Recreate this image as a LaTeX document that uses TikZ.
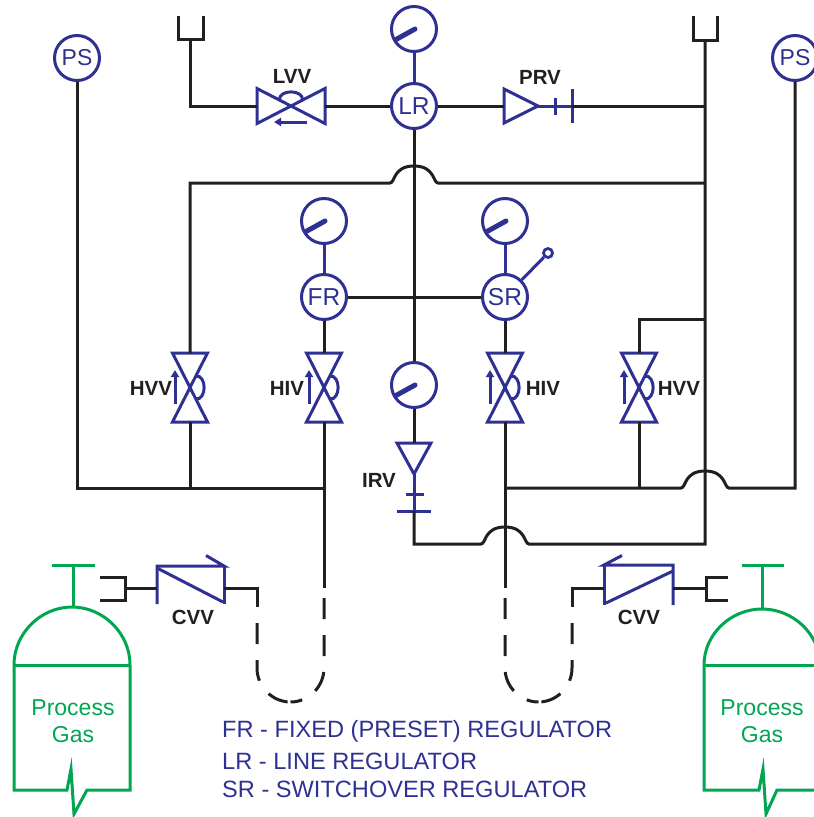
\documentclass[tikz,border=0pt]{standalone}
\usepackage{fontspec}
\setmainfont{Liberation Sans}
\usetikzlibrary{arrows.meta}
\definecolor{pid}{HTML}{2E3192}
\definecolor{ink}{HTML}{231F20}
\definecolor{gas}{HTML}{00A651}

% hand valve with bonnet arc and stem arrow, vertical, centred at (#1,#2)
\newcommand\handvalve[2]{%
  \draw[sym] (#1-17.5,#2-34.5) -- (#1+17.5,#2-34.5) -- (#1-17.5,#2+34.5) -- (#1+17.5,#2+34.5) -- cycle;
  \draw[sym] (#1+5.5,#2-11.5) .. controls (#1+17,#2-13) and (#1+17,#2+13) .. (#1+5.5,#2+11.5);
  \draw[sym,-{Triangle[length=7pt,width=8pt]}] (#1-15,#2+16) -- (#1-15,#2-17.5);
}
% pointer of a pressure gauge
\newcommand\gaugeneedle[1]{\draw[needle] (#1.center) ++(1,0) -- ++(-19,10.5);}

\begin{document}
\begin{tikzpicture}[x=1pt,y=-1pt,line join=miter,
  pipe/.style={draw=ink,line width=3pt},
  sym/.style={draw=pid,line width=3pt},
  inst/.style={circle,draw=pid,line width=3pt,minimum size=45pt,inner sep=0pt,
    text=pid,font=\fontsize{24.5}{28}\selectfont},
  gauge/.style={circle,draw=pid,line width=3pt,minimum size=45pt,inner sep=0pt},
  needle/.style={draw=pid,line width=5pt,line cap=round},
  tag/.style={text=ink,inner sep=0pt,font=\fontsize{20.5}{24}\selectfont\bfseries},
  legend/.style={text=pid,inner sep=0pt,anchor=base west,font=\fontsize{23.6}{27}\selectfont},
  tank/.style={draw=gas,line width=3pt},
  gaslabel/.style={text=gas,inner sep=0pt,font=\fontsize{23}{27}\selectfont},
  loop/.style={pipe,dash pattern=on 21pt off 16pt}]
\useasboundingbox (0,0) rectangle (814,817);
\clip (0,0) rectangle (814,817);

% ---------- instruments ----------
\node[inst,font=\fontsize{23}{27}\selectfont] (PSL) at (77,58) {PS};
\node[inst,font=\fontsize{23}{27}\selectfont] (PSR) at (795,58) {PS};
\node[inst] (LR) at (414,106) {LR};
\node[gauge] (LRg) at (414,29) {};
\node[inst] (FR) at (324,297) {FR};
\node[gauge] (FRg) at (324,221) {};
\node[inst] (SR) at (505,297) {SR};
\node[gauge] (SRg) at (505,221) {};
\node[gauge] (IRVg) at (414,385) {};
\node[circle,draw=pid,line width=2.8pt,minimum size=9pt,inner sep=0pt] (knob) at (548,253) {};
\gaugeneedle{LRg}
\gaugeneedle{FRg}
\gaugeneedle{SRg}
\gaugeneedle{IRVg}
\draw[sym] (LRg) -- (LR);
\draw[sym] (FRg) -- (FR);
\draw[sym] (SRg) -- (SR);
\draw[sym] (SR) -- (knob);

% ---------- connection points ----------
\coordinate (ventL) at (190.5,39);
\coordinate (ventR) at (705,40);
\coordinate (LVVw) at (257,106);
\coordinate (LVVe) at (325,106);
\coordinate (PRVw) at (504,106);
\coordinate (PRVe) at (572,106);
\coordinate (IRVt) at (414,443);
\coordinate (IRVb) at (414,511);
\coordinate (HVVLt) at (190,353);
\coordinate (HVVLb) at (190,422);
\coordinate (HIVLt) at (324,353);
\coordinate (HIVLb) at (324,422);
\coordinate (HIVRt) at (505,353);
\coordinate (HIVRb) at (505,422);
\coordinate (HVVRt) at (639,353);
\coordinate (HVVRb) at (639,422);
\coordinate (CVVLw) at (157,588);
\coordinate (CVVLe) at (224,588);
\coordinate (CVVRw) at (604,588);
\coordinate (CVVRe) at (673,588);

% ---------- vents ----------
\draw[pipe] (178,16) -- (178,39) -- (203,39) -- (203,16);
\draw[pipe] (693,16) -- (693,40) -- (717,40) -- (717,16);

% ---------- line valves ----------
% LVV
\draw[sym] (257,88.5) -- (257,123.5) -- (325,88.5) -- (325,123.5) -- cycle;
\draw[sym] (279.5,100.5) .. controls (278,89) and (304,89) .. (302.5,100.5);
\draw[sym,-{Triangle[length=7pt,width=8pt]}] (307,122) -- (274,122);
% PRV
\draw[sym] (504,89) -- (504,123) -- (538,106) -- cycle;
\draw[sym] (538,106) -- (PRVe);
\draw[sym] (555,98) -- (555,115);
\draw[sym] (572,89) -- (572,123);
% IRV
\draw[sym] (397,443) -- (431,443) -- (414,474) -- cycle;
\draw[sym] (414,474) -- (IRVb);
\draw[sym] (406,494) -- (424,494);
\draw[sym] (397,511) -- (431,511);
% hand valves
\handvalve{190}{387.5}
\handvalve{324}{387.5}
\handvalve{505}{387.5}
\handvalve{639}{387.5}
% check valves
\draw[sym] (157,604) -- (157,566) -- (224,566) -- (206,555.5);
\draw[sym] (224,566) -- (224,604);
\draw[sym] (157,568) -- (223,602);
\draw[sym] (673,605) -- (673,565) -- (604,565) -- (622,555.5);
\draw[sym] (604,565) -- (604,605);
\draw[sym] (606,603) -- (673,571);

% ---------- piping (crossings drawn as hops) ----------
\draw[pipe] (ventL) -- (190.5,106) -- (LVVw);
\draw[pipe] (LVVe) -- (LR);
\draw[pipe] (LR) -- (PRVw);
\draw[pipe] (PRVe) -- (705,106);
\draw[pipe] (ventR) -- (705,544) -- (529,544)
  .. controls (524,544) and (526,527) .. (505,527)
  .. controls (484,527) and (486,544) .. (481,544) -- (414,544) -- (IRVb);
\draw[pipe] (HVVLt) -- (190,183) -- (390,183)
  .. controls (395,183) and (393,166) .. (414,166)
  .. controls (435,166) and (433,183) .. (438,183) -- (705,183);
\draw[pipe] (LR) -- (IRVg);
\draw[pipe] (IRVg) -- (IRVt);
\draw[pipe] (FR) -- (SR);
\draw[pipe] (FR) -- (HIVLt);
\draw[pipe] (SR) -- (HIVRt);
\draw[pipe] (HVVRt) -- (639,319) -- (705,319);
\draw[pipe] (PSL) -- (77,488) -- (324,488);
\draw[pipe] (HVVLb) -- (190,488);
\draw[pipe] (HIVLb) -- (324,588);
\draw[pipe] (HIVRb) -- (505,588);
\draw[pipe] (HVVRb) -- (639,488);
\draw[pipe] (505,488) -- (681,488)
  .. controls (686,488) and (684,471) .. (705,471)
  .. controls (726,471) and (724,488) .. (729,488) -- (795,488) -- (PSR);

% cylinder connections and pigtails
\draw[pipe] (100,577) -- (125,577) -- (125,600) -- (100,600);
\draw[pipe] (125,588) -- (CVVLw);
\draw[pipe] (CVVLe) -- (257,588) -- (257,607);
\draw[loop,dash phase=21pt] (257,607) -- (257,668) .. controls (257,686.5) and (272,702) .. (290.5,702);
\draw[loop,dash phase=27pt] (324,588) -- (324,668) .. controls (324,686.5) and (309,702) .. (290.5,702);
\draw[pipe] (728,577) -- (706,577) -- (706,600) -- (728,600);
\draw[pipe] (706,588) -- (CVVRe);
\draw[pipe] (CVVRw) -- (572,588) -- (572,607);
\draw[loop,dash phase=21pt] (572,607) -- (572,668) .. controls (572,686.5) and (557,702) .. (538.5,702);
\draw[loop,dash phase=27pt] (505,588) -- (505,668) .. controls (505,686.5) and (520,702) .. (538.5,702);

% ---------- gas cylinders ----------
\draw[tank] (14,665) .. controls (14,633) and (41,607) .. (72,607)
  .. controls (103,607) and (130,633) .. (130,665) -- (130,790) -- (87,790)
  -- (74,814) -- (71,769) -- (67,790) -- (14,790) -- cycle;
\draw[tank] (14,665) -- (130,665);
\draw[tank] (73,607) -- (73,565);
\draw[tank] (52,565) -- (95,565);
\draw[tank] (704,665) .. controls (704,634) and (731,609) .. (762,609)
  .. controls (793,609) and (820,634) .. (820,665) -- (820,790) -- (777,790)
  -- (766,814) -- (763,769) -- (759,790) -- (704,790) -- cycle;
\draw[tank] (704,665) -- (820,665);
\draw[tank] (762,609) -- (762,565);
\draw[tank] (742,565) -- (784,565);
\node[gaslabel] (gasL1) at (73,708) {Process};
\node[gaslabel] (gasL2) at (73,735) {Gas};
\node[gaslabel] (gasR1) at (762,708) {Process};
\node[gaslabel] (gasR2) at (762,735) {Gas};

% ---------- tags ----------
\node[tag] (tLVV) at (292,76) {LVV};
\node[tag] (tPRV) at (540,77) {PRV};
\node[tag] (tHVVL) at (151,388) {HVV};
\node[tag] (tHIVL) at (287,388) {HIV};
\node[tag] (tHIVR) at (543,388) {HIV};
\node[tag] (tHVVR) at (679,388) {HVV};
\node[tag] (tIRV) at (379,480) {IRV};
\node[tag] (tCVVL) at (193,617) {CVV};
\node[tag] (tCVVR) at (639,617) {CVV};

% ---------- legend ----------
\node[legend] (key1) at (222,737) {FR - FIXED (PRESET) REGULATOR};
\node[legend] (key2) at (222,769) {LR - LINE REGULATOR};
\node[legend] (key3) at (222,797) {SR - SWITCHOVER REGULATOR};
\end{tikzpicture}
\end{document}
